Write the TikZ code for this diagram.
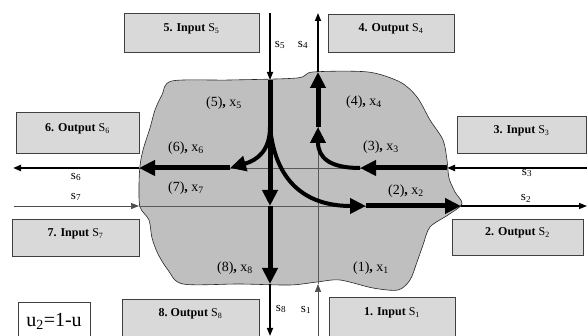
\documentclass[tikz,border=0pt]{standalone}
\usepackage{fontspec}
\setmainfont{Liberation Serif}
\usetikzlibrary{arrows.meta}

\begin{document}
\begin{tikzpicture}[x=1pt,y=-1pt,
  every node/.style={font=\fontsize{14}{16}\selectfont},
  box/.style={draw=black!75,fill=black!15,line width=0.8pt,inner sep=0pt,text depth=10pt,font=\fontsize{12}{14}\selectfont},
  blob/.style={draw=black!85,fill=black!25,line width=0.6pt},
  flow/.style={line width=5pt,-{Triangle[length=16pt,width=15pt]}},
  curv/.style={line width=4pt,-{Triangle[length=16pt,width=15pt]}},
  ext/.style={line width=1.6pt,-{Triangle[length=8pt,width=6pt]}},
  grid/.style={black!65,line width=0.7pt},
  sl/.style={font=\fontsize{13}{15}\selectfont}]
\useasboundingbox (0,0) rectangle (587,336);
\draw[blob] plot[smooth cycle,tension=0.5] coordinates {(172,81) (230,80) (297,78) (313,72) (368,72) (400,82) (417,97) (430,120) (443,140) (447,160) (449,178) (455,192) (462,204) (448,215) (430,227) (423,245) (417,262) (410,280) (398,290) (373,288) (340,280) (317,282) (290,285) (240,284) (183,284) (168,270) (158,254) (152,238) (149,220) (140,207) (139,185) (140,166) (143,150) (150,128) (155,110) (162,95)};
\coordinate (top5) at (270,13); \coordinate (in5) at (270,80); \coordinate (split) at (270,127);
\coordinate (x7) at (270,206); \coordinate (bot8) at (270,284); \coordinate (end8) at (270,336);
\coordinate (top4) at (318,13); \coordinate (out4) at (318,72); \coordinate (join4) at (318,127);
\coordinate (bot1) at (318,284); \coordinate (end1) at (318,336);
\coordinate (l6) at (13,168); \coordinate (w6) at (139,168); \coordinate (m6) at (230,168);
\coordinate (m3) at (360,168); \coordinate (e3) at (447,168); \coordinate (r3) at (587,168);
\coordinate (l7) at (14,206); \coordinate (w7) at (139,206); \coordinate (m2) at (366,206);
\coordinate (e2) at (461,206); \coordinate (r2) at (587,206);
\draw[grid] (w6) -- (e3); \draw[grid] (w7) -- (e2); \draw[grid] (join4) -- (bot1);
\draw[flow] (in5) -- (x7); \draw[flow] (x7) -- (bot8);
\draw[flow] (m6) -- (w6); \draw[flow] (e3) -- (m3);
\draw[flow] (m2) -- (e2); \draw[flow] (join4) -- (out4);
\draw[curv] (split) .. controls (270,150) and (258,160) .. (m6);
\draw[curv] (split) .. controls (276,188) and (312,206) .. (m2);
\draw[curv] (m3) .. controls (330,168) and (318,158) .. (join4);
\draw[ext] (top5) -- (in5); \draw[ext] (out4) -- (top4);
\draw[ext,line width=2pt] (r3) -- (e3); \draw[ext,line width=1.3pt] (e2) -- (r2);
\draw[ext,line width=2pt] (w6) -- (l6); \draw[ext,line width=0.7pt,black!70] (l7) -- (w7);
\draw[ext] (bot8) -- (end8); \draw[ext,line width=0.7pt,black!70] (end1) -- (bot1);
\node[box,minimum width=135pt,minimum height=39pt] (in5box) at (191.5,32.5) {\textbf{5.\hspace{4pt}Input} S\textsubscript{5}};
\node[box,minimum width=126pt,minimum height=38pt] (out4box) at (391,33) {\textbf{4.\hspace{4pt}Output} S\textsubscript{4}};
\node[box,minimum width=123pt,minimum height=41pt] (out6box) at (77.5,132.5) {\textbf{6.\hspace{4pt}Output} S\textsubscript{6}};
\node[box,minimum width=129pt,minimum height=37pt] (in3box) at (521.5,134.5) {\textbf{3.\hspace{4pt}Input} S\textsubscript{3}};
\node[box,minimum width=127pt,minimum height=37pt] (in7box) at (75.5,237.5) {\textbf{7.\hspace{4pt}Input} S\textsubscript{7}};
\node[box,minimum width=131pt,minimum height=36pt] (out2box) at (517.5,237) {\textbf{2.\hspace{4pt}Output} S\textsubscript{2}};
\node[box,minimum width=137pt,minimum height=38pt] (out8box) at (190.5,318) {\textbf{8.\ Output} S\textsubscript{8}};
\node[box,minimum width=126pt,minimum height=40pt] (in1box) at (392,317) {\textbf{1.\hspace{4pt}Input} S\textsubscript{1}};
\node[draw=black!75,fill=white,line width=0.8pt,minimum width=72pt,minimum height=38pt,font=\fontsize{20}{22}\selectfont] (urel) at (54,321) {u\textsubscript{2}=1-u};
\node (lb5) at (224,103) {(5)\textbf{,} x\textsubscript{5}};
\node (lb4) at (364,102) {(4)\textbf{,} x\textsubscript{4}};
\node (lb6) at (186,148) {(6)\textbf{,} x\textsubscript{6}};
\node (lb3) at (381,147) {(3)\textbf{,} x\textsubscript{3}};
\node (lb7) at (186,188) {(7)\textbf{,} x\textsubscript{7}};
\node (lb2) at (406,191) {(2)\textbf{,} x\textsubscript{2}};
\node (lb8) at (235,268) {(8)\textbf{,} x\textsubscript{8}};
\node (lb1) at (371,268) {(1)\textbf{,} x\textsubscript{1}};
\node[sl] (s5) at (280,45) {s\textsubscript{5}};
\node[sl] (s4) at (303,45) {s\textsubscript{4}};
\node[sl] (s6) at (76,177) {s\textsubscript{6}};
\node[sl] (s7) at (76,197) {s\textsubscript{7}};
\node[sl] (s3) at (527,173) {s\textsubscript{3}};
\node[sl] (s2) at (526,198) {s\textsubscript{2}};
\node[sl] (s8) at (281,309) {s\textsubscript{8}};
\node[sl] (s1) at (306,310) {s\textsubscript{1}};
\end{tikzpicture}
\end{document}
